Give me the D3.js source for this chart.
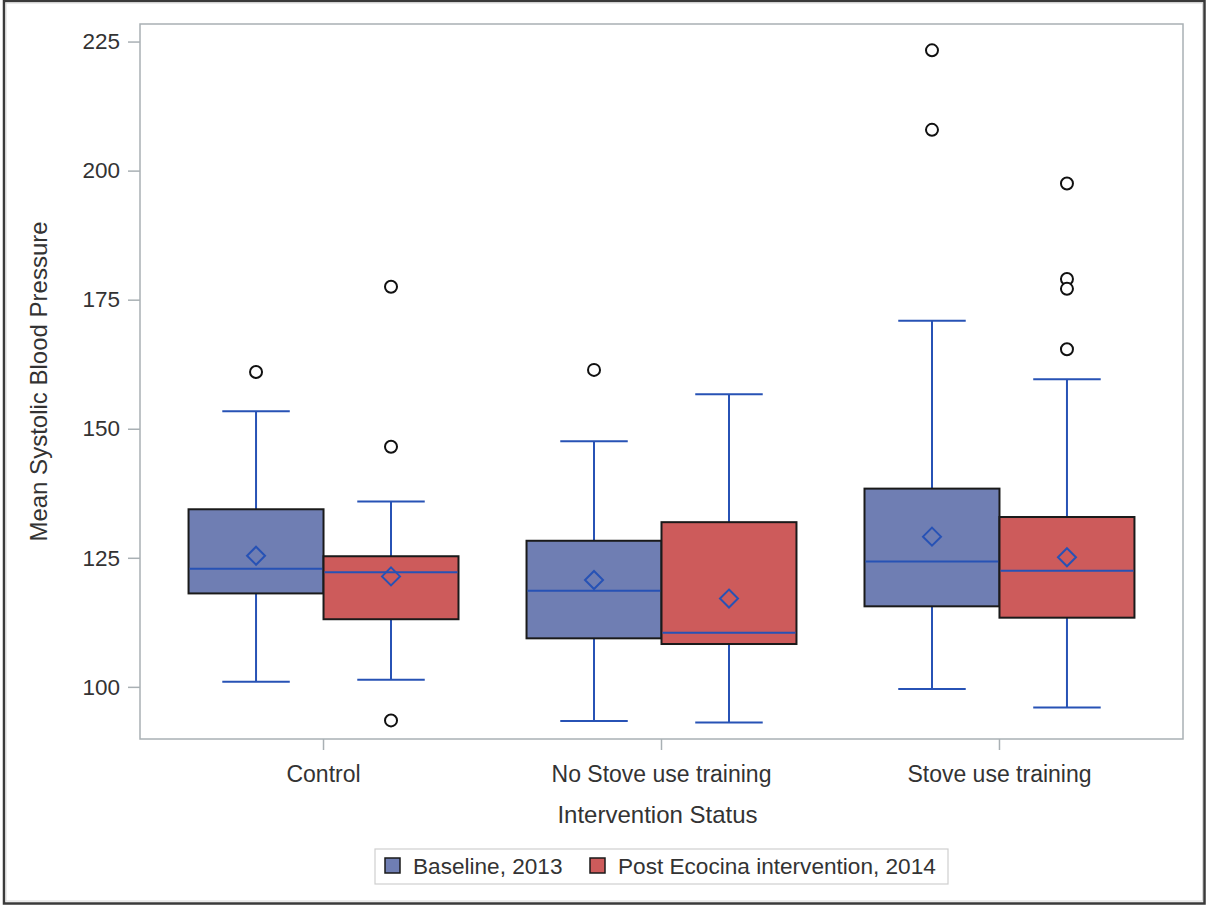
<!DOCTYPE html>
<html>
<head>
<meta charset="utf-8">
<script src="https://cdn.jsdelivr.net/npm/d3@7"></script>
<style>
  html, body { margin: 0; padding: 0; background: #fff; }
  svg { display: block; font-family: "Liberation Sans", Arial, sans-serif; }
</style>
</head>
<body>
<svg id="chart" width="1206" height="905"></svg>
<script>
// ---- data ----
const categories = ["Control", "No Stove use training", "Stove use training"];
const seriesNames = ["Baseline, 2013", "Post Ecocina intervention, 2014"];
const yTicks = [100, 125, 150, 175, 200, 225];

const baselineLow    = [101.0, 93.4, 99.6];
const baselineQ1     = [118.1, 109.4, 115.6];
const baselineMedian = [122.9, 118.6, 124.3];
const baselineQ3     = [134.4, 128.3, 138.4];
const baselineHigh   = [153.4, 147.6, 170.9];
const baselineMean   = [125.4, 120.7, 129.1];
const baselineOutliers = [[161.0], [161.4], [223.3, 207.9]];

const postLow    = [101.4, 93.1, 96.0];
const postQ1     = [113.1, 108.3, 113.4];
const postMedian = [122.2, 110.5, 122.5];
const postQ3     = [125.3, 131.9, 132.9];
const postHigh   = [135.9, 156.7, 159.6];
const postMean   = [121.4, 117.1, 125.1];
const postOutliers = [[177.5, 146.5, 93.5], [], [197.5, 179.0, 177.1, 165.4]];

const seriesColors = ["#6F7EB3", "#CD5B5B"];

// ---- build records ----
const seriesData = [
  {name: seriesNames[0], low: baselineLow, q1: baselineQ1, med: baselineMedian, q3: baselineQ3, high: baselineHigh, mean: baselineMean, out: baselineOutliers},
  {name: seriesNames[1], low: postLow, q1: postQ1, med: postMedian, q3: postQ3, high: postHigh, mean: postMean, out: postOutliers}
];
const boxes = [];
categories.forEach((c, i) => {
  seriesData.forEach((s, j) => {
    boxes.push({cat: c, series: s.name, si: j, low: s.low[i], q1: s.q1[i], med: s.med[i], q3: s.q3[i], high: s.high[i], mean: s.mean[i], out: s.out[i]});
  });
});

const svg = d3.select("#chart");
const plot = {left: 140, right: 1183, top: 24, bottom: 739};

// outer frame
svg.append("rect").attr("x", 4).attr("y", 1).attr("width", 1200.5).attr("height", 902.5)
  .attr("fill", "none").attr("stroke", "#3a3a3a").attr("stroke-width", 2.5);
svg.append("rect").attr("x", 6).attr("y", 3).attr("width", 1196.5).attr("height", 898)
  .attr("fill", "none").attr("stroke", "#d8d8d8").attr("stroke-width", 1);

const x = d3.scaleBand().domain(categories).range([plot.left, plot.right])
  .paddingInner(0).paddingOuter(0.043);
const xs = d3.scaleBand().domain(seriesNames).range([0, x.bandwidth()])
  .paddingInner(0).paddingOuter(0.252);
const y = d3.scaleLinear().domain([89.9, 228.4]).range([plot.bottom, plot.top]);
const color = d3.scaleOrdinal().domain(seriesNames).range(seriesColors);

// plot frame
svg.append("rect").attr("x", plot.left).attr("y", plot.top)
  .attr("width", plot.right - plot.left).attr("height", plot.bottom - plot.top)
  .attr("fill", "none").attr("stroke", "#a9b0b4").attr("stroke-width", 1.5);

// axes
const yAxis = svg.append("g").attr("transform", `translate(${plot.left},0)`)
  .call(d3.axisLeft(y).tickValues(yTicks).tickSize(12).tickPadding(8));
yAxis.select(".domain").remove();
yAxis.selectAll(".tick line").attr("stroke", "#a9b0b4").attr("stroke-width", 1.5);
yAxis.selectAll(".tick text").attr("fill", "#333").style("font-size", "22.5px")
  .style("font-family", "'Liberation Sans', Arial, sans-serif");

const xAxis = svg.append("g").attr("transform", `translate(0,${plot.bottom})`)
  .call(d3.axisBottom(x).tickSize(11).tickPadding(16));
xAxis.select(".domain").remove();
xAxis.selectAll(".tick line").attr("stroke", "#a9b0b4").attr("stroke-width", 1.5);
xAxis.selectAll(".tick text").attr("fill", "#333").style("font-size", "23px")
  .style("font-family", "'Liberation Sans', Arial, sans-serif");

// axis titles
svg.append("text").attr("x", (plot.left + plot.right) / 2 - 4).attr("y", 823)
  .attr("text-anchor", "middle").attr("fill", "#333").style("font-size", "24px")
  .text("Intervention Status");
svg.append("text").attr("transform", `translate(47,${(plot.top + plot.bottom) / 2}) rotate(-90)`)
  .attr("text-anchor", "middle").attr("fill", "#333").style("font-size", "24px")
  .text("Mean Systolic Blood Pressure");

// boxes
const whiskerColor = "#2752B5";
const bw = xs.bandwidth();
const g = svg.append("g");
boxes.forEach(d => {
  const x0 = x(d.cat) + xs(d.series);
  const cx = x0 + bw / 2;
  const capHalf = bw / 4;
  const bg = g.append("g");
  // whiskers
  bg.append("line").attr("x1", cx).attr("x2", cx).attr("y1", y(d.q3)).attr("y2", y(d.high))
    .attr("stroke", whiskerColor).attr("stroke-width", 2);
  bg.append("line").attr("x1", cx).attr("x2", cx).attr("y1", y(d.q1)).attr("y2", y(d.low))
    .attr("stroke", whiskerColor).attr("stroke-width", 2);
  bg.append("line").attr("x1", cx - capHalf).attr("x2", cx + capHalf).attr("y1", y(d.high)).attr("y2", y(d.high))
    .attr("stroke", whiskerColor).attr("stroke-width", 2);
  bg.append("line").attr("x1", cx - capHalf).attr("x2", cx + capHalf).attr("y1", y(d.low)).attr("y2", y(d.low))
    .attr("stroke", whiskerColor).attr("stroke-width", 2);
  // box
  bg.append("rect").attr("x", x0).attr("y", y(d.q3)).attr("width", bw).attr("height", y(d.q1) - y(d.q3))
    .attr("fill", color(d.series)).attr("stroke", "#1a1a1a").attr("stroke-width", 2);
  // median
  bg.append("line").attr("x1", x0 + 1).attr("x2", x0 + bw - 1).attr("y1", y(d.med)).attr("y2", y(d.med))
    .attr("stroke", whiskerColor).attr("stroke-width", 2);
  // mean diamond
  const r = 9;
  const my = y(d.mean);
  bg.append("path").attr("d", `M${cx},${my - r}L${cx + r},${my}L${cx},${my + r}L${cx - r},${my}Z`)
    .attr("fill", "none").attr("stroke", whiskerColor).attr("stroke-width", 2);
  // outliers
  d.out.forEach(o => {
    bg.append("circle").attr("cx", cx).attr("cy", y(o)).attr("r", 6)
      .attr("fill", "#fff").attr("stroke", "#111").attr("stroke-width", 2);
  });
});

// legend
const lg = svg.append("g");
lg.append("rect").attr("x", 375).attr("y", 849).attr("width", 573).attr("height", 35)
  .attr("fill", "#fff").attr("stroke", "#cfcfcf").attr("stroke-width", 1.2);
const legendX = [385, 590];
seriesNames.forEach((s, i) => {
  lg.append("rect").attr("x", legendX[i]).attr("y", 858).attr("width", 15).attr("height", 15)
    .attr("fill", color(s)).attr("stroke", "#1a1a1a").attr("stroke-width", 1.5);
  lg.append("text").attr("x", legendX[i] + 28).attr("y", 874).attr("fill", "#333")
    .style("font-size", "22.6px").text(s);
});
</script>
</body>
</html>
